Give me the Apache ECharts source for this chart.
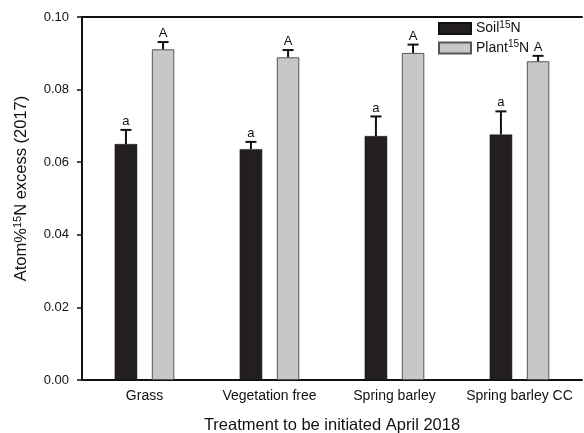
<!DOCTYPE html>
<html>
<head>
<meta charset="utf-8">
<script src="https://cdn.jsdelivr.net/npm/echarts@6/dist/echarts.min.js"></script>
<style>html,body{margin:0;padding:0;background:#fff}#c{width:584px;height:433px}</style>
</head>
<body>
<div id="c"></div>
<script>
var categories = ['Grass', 'Vegetation free', 'Spring barley', 'Spring barley CC'];
var soilValues = [0.0650, 0.0636, 0.0672, 0.0676];
var soilErrors = [0.0039, 0.0020, 0.0054, 0.0064];
var soilLetters = ['a', 'a', 'a', 'a'];
var plantValues = [0.0911, 0.0889, 0.0901, 0.0878];
var plantErrors = [0.0020, 0.0020, 0.0023, 0.0015];
var plantLetters = ['A', 'A', 'A', 'A'];

var FONT = '"Liberation Sans", Arial, sans-serif';
var BAR_W = 0.18, BAR_GAP = 0.65;
var shift = (BAR_W + BAR_W * BAR_GAP) / 2;

function errSeries(values, errors, letters, side) {
  return {
    type: 'custom',
    xAxisIndex: 0, yAxisIndex: 0,
    z: 5,
    data: values.map(function (v, i) { return [i, v, errors[i]]; }),
    encode: { x: 0, y: 1 },
    renderItem: function (params, api) {
      var i = api.value(0), v = api.value(1), e = api.value(2);
      var bw = api.size([1, 0])[0];
      var base = api.coord([i, v]);
      var top = api.coord([i, v + e]);
      var x = base[0] + side * shift * bw;
      var cap = 5.5;
      return {
        type: 'group',
        children: [
          { type: 'line', shape: { x1: x, y1: base[1], x2: x, y2: top[1] }, style: { stroke: '#111', lineWidth: 2 } },
          { type: 'line', shape: { x1: x - cap, y1: top[1], x2: x + cap, y2: top[1] }, style: { stroke: '#111', lineWidth: 2 } },
          { type: 'text', x: x, y: top[1] - 2, style: { text: letters[params.dataIndex], fill: '#111', font: '13px ' + FONT, align: 'center', verticalAlign: 'bottom' } }
        ]
      };
    }
  };
}

var legendRich = {
  sup: { fontSize: 10, verticalAlign: 'top', padding: [0, 0, 7, 0], color: '#111', fontFamily: FONT },
  n: { fontSize: 14, color: '#111', fontFamily: FONT }
};
var nameRich = {
  sup: { fontSize: 11, verticalAlign: 'top', padding: [0, 0, 8, 0], color: '#111', fontFamily: FONT },
  n: { fontSize: 16.5, color: '#111', fontFamily: FONT }
};

var chart = echarts.init(document.getElementById('c'), null, { renderer: 'canvas' });
chart.setOption({
  animation: false,
  backgroundColor: '#fff',
  textStyle: { fontFamily: FONT },
  grid: { left: 82, right: 2, top: 17, bottom: 53, containLabel: false, outerBoundsMode: 'none' },
  legend: {
    orient: 'vertical',
    left: 433, top: 15,
    itemWidth: 32, itemHeight: 11, itemGap: 4,
    icon: 'rect',
    data: ['Soil', 'Plant'],
    textStyle: { fontSize: 14, color: '#111', fontFamily: FONT, rich: legendRich },
    formatter: function (name) { return '{n|' + name + '}{sup|15}{n|N}'; }
  },
  xAxis: [{
    type: 'category',
    data: categories,
    axisLine: { show: true, lineStyle: { color: '#111', width: 2 } },
    axisTick: { show: false },
    axisLabel: { color: '#111', fontSize: 14, margin: 9, fontFamily: FONT, interval: 0 },
    name: 'Treatment to be initiated April 2018',
    nameLocation: 'middle',
    nameGap: 37,
    nameTextStyle: { color: '#111', fontSize: 16.5, fontFamily: FONT }
  }, {
    type: 'category',
    position: 'top',
    data: categories,
    axisLine: { show: true, lineStyle: { color: '#111', width: 2 } },
    axisTick: { show: false },
    axisLabel: { show: false }
  }],
  yAxis: {
    type: 'value',
    min: 0, max: 0.10, interval: 0.02,
    axisLine: { show: true, lineStyle: { color: '#111', width: 2 } },
    axisTick: { show: true, length: 5, lineStyle: { color: '#111', width: 1.5 } },
    splitLine: { show: false },
    axisLabel: {
      color: '#111', fontSize: 13, margin: 13, fontFamily: FONT,
      formatter: function (v) { return v.toFixed(2); }
    },
    name: '{n|Atom%}{sup|15}{n|N excess (2017)}',
    nameLocation: 'middle',
    nameGap: 51,
    nameTextStyle: { color: '#111', fontSize: 16.5, fontFamily: FONT, rich: nameRich, padding: [0, 0, 0, 20] }
  },
  series: [
    { name: 'Soil', type: 'bar', data: soilValues, barWidth: (BAR_W * 100) + '%', barGap: (BAR_GAP * 100) + '%',
      itemStyle: { color: '#231f20', borderColor: '#111', borderWidth: 0.5 } },
    { name: 'Plant', type: 'bar', data: plantValues, barWidth: (BAR_W * 100) + '%',
      itemStyle: { color: '#c6c7c8', borderColor: '#555', borderWidth: 1 } },
    errSeries(soilValues, soilErrors, soilLetters, -1),
    errSeries(plantValues, plantErrors, plantLetters, 1)
  ]
});
</script>
</body>
</html>
